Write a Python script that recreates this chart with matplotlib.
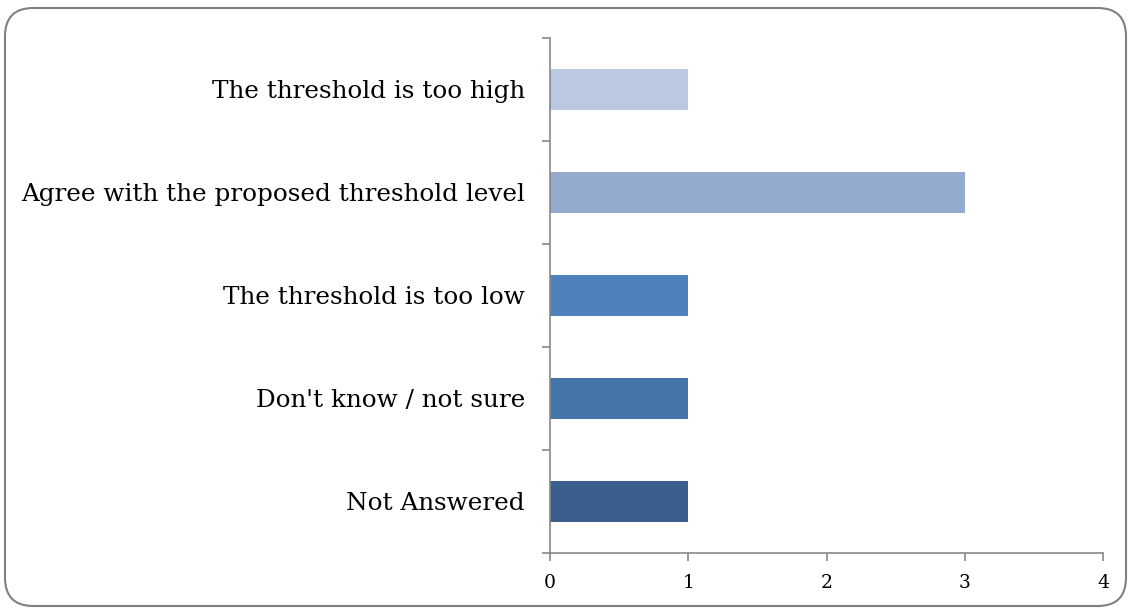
import matplotlib.pyplot as plt
from matplotlib.patches import FancyBboxPatch

categories = ['Not Answered', "Don't know / not sure", 'The threshold is too low',
              'Agree with the proposed threshold level', 'The threshold is too high']
values = [1, 1, 1, 3, 1]
colors = ['#3A5F8D', '#4574A9', '#4F81BD', '#95AACF', '#BCC8E1']
xticks = [0, 1, 2, 3, 4]

fig = plt.figure(figsize=(11.31, 6.10), dpi=100)
ax = fig.add_axes([550 / 1131, 57 / 610, 553 / 1131, 515 / 610])

ypos = range(len(categories))
ax.barh(ypos, values, height=0.4, color=colors)

ax.set_xlim(0, 4)
ax.set_ylim(-0.5, len(categories) - 0.5)
ax.set_xticks(xticks)
ax.set_xticklabels([str(t) for t in xticks], fontsize=13.5, family='DejaVu Serif')
ax.set_yticks([y - 0.5 for y in range(len(categories) + 1)], minor=False)
ax.set_yticklabels([])
ax.set_yticks(list(ypos), minor=True)
ax.set_yticklabels(categories, minor=True, fontsize=17.7, family='DejaVu Serif')
ax.tick_params(axis='y', which='major', length=6, color='#878787', width=1.2)
ax.tick_params(axis='y', which='minor', length=0, pad=18)
ax.tick_params(axis='x', length=6, color='#878787', width=1.2, pad=9)

for s in ['top', 'right']:
    ax.spines[s].set_visible(False)
for s in ['left', 'bottom']:
    ax.spines[s].set_color('#878787')
    ax.spines[s].set_linewidth(1.2)

border = FancyBboxPatch((5 / 1131, 4 / 610), 1121 / 1131, 598 / 610,
                        boxstyle='round,pad=0,rounding_size=0.025',
                        transform=fig.transFigure, fill=False,
                        edgecolor='#808080', linewidth=1.5, mutation_aspect=1131 / 610)
fig.patches.append(border)

fig.savefig('out.png', dpi=100)
